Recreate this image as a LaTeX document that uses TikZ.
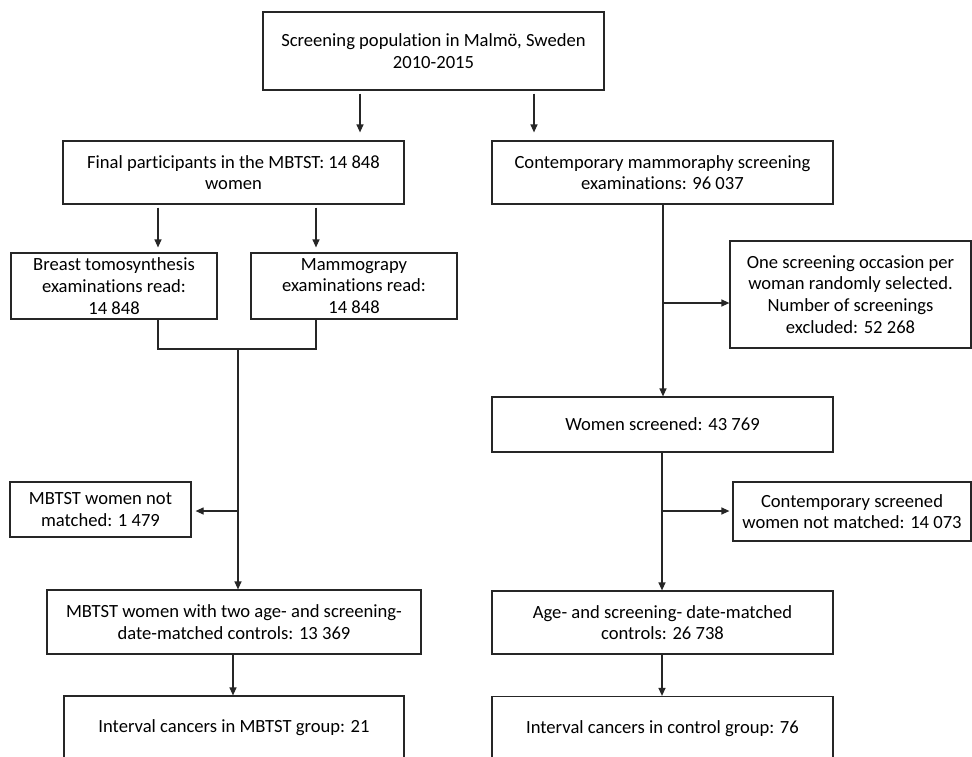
\documentclass[tikz,border=0pt]{standalone}
\usepackage{fontspec}
\setmainfont{Carlito}[Ligatures=NoCommon]
\usetikzlibrary{arrows.meta}
\tikzset{
  box/.style={draw=black!85, line width=1.2pt, rectangle, inner sep=0pt, align=center,
    font=\fontsize{18.6}{21.7}\selectfont},
  arr/.style={draw=black!85, line width=1.2pt, -{Triangle[length=8pt,width=7pt]}},
  ln/.style={draw=black!85, line width=1.2pt}
}
\begin{document}
\begin{tikzpicture}[x=1pt,y=-1pt]
\useasboundingbox (0,0) rectangle (972,756);
\fill[white] (0,0) rectangle (972,756);
% nodes
\node[box, minimum width=341pt, minimum height=78pt] (top) at (433.5,51) {Screening population in Malmö, Sweden\\2010-2015};
\node[box, minimum width=341pt, minimum height=63pt] (final) at (233.5,172.5) {Final participants in the MBTST: 14 848\\women};
\node[box, minimum width=341pt, minimum height=63pt] (contemp) at (662.5,172.5) {Contemporary mammoraphy screening\\examinations: 96 037};
\node[box, minimum width=206pt, minimum height=66pt] (breast) at (114,286) {Breast tomosynthesis\\examinations read:\\14 848};
\node[box, minimum width=206pt, minimum height=66pt] (mammo) at (354,286) {Mammograpy\\examinations read:\\14 848};
\node[box, minimum width=241pt, minimum height=107pt] (onescreen) at (850.5,294.5) {One screening occasion per\\woman randomly selected.\\Number of screenings\\excluded: 52 268};
\node[box, minimum width=341pt, minimum height=55pt] (womenscr) at (662.5,424.5) {Women screened: 43 769};
\node[box, minimum width=181pt, minimum height=55pt] (notmatched) at (100.5,509.5) {MBTST women not\\matched: 1 479};
\node[box, minimum width=238pt, minimum height=59pt] (contnot) at (852,511.5) {Contemporary screened\\women not matched: 14 073};
\node[box, minimum width=374pt, minimum height=64pt] (mbtst2) at (234,622) {MBTST women with two age- and screening-\\date-matched controls: 13 369};
\node[box, minimum width=341pt, minimum height=63pt] (age) at (662.5,622.5) {Age- and screening- date-matched\\controls: 26 738};
\node[box, minimum width=340pt, minimum height=64pt] (intA) at (234,728) {Interval cancers in MBTST group: 21};
\node[box, minimum width=341pt, minimum height=64pt] (intB) at (662.5,728.5) {Interval cancers in control group: 76};
% helper coordinates
\coordinate (xa) at (360,0);
\coordinate (xb) at (534,0);
\coordinate (xc) at (158,0);
\coordinate (xd) at (316,0);
\coordinate (xe) at (233,0);
\coordinate (j1) at (158,349);
\coordinate (j2) at (316,349);
\coordinate (jm) at (238,349);
\coordinate (b1) at (238,511);
\coordinate (b2) at (663,303);
\coordinate (b3) at (662,511);
% connectors
\draw[arr, shorten <=3pt, shorten >=8pt] (top.south -| xa) -- (final.north -| xa);
\draw[arr, shorten <=3pt, shorten >=8pt] (top.south -| xb) -- (contemp.north -| xb);
\draw[arr, shorten <=3pt, shorten >=5pt] (final.south -| xc) -- (breast.north -| xc);
\draw[arr, shorten <=3pt, shorten >=5pt] (final.south -| xd) -- (mammo.north -| xd);
\draw[ln] (breast.south -| j1) -- (j1) -- (j2) -- (mammo.south -| j2);
\draw[arr] (jm) -- (mbtst2.north -| jm);
\draw[arr, shorten >=4pt] (b1) -- (notmatched.east |- b1);
\draw[arr] (mbtst2.south -| xe) -- (intA.north -| xe);
\draw[arr] (contemp.south -| b2) -- (womenscr.north -| b2);
\draw[arr] (b2) -- (onescreen.west |- b2);
\draw[arr] (womenscr.south -| b3) -- (age.north -| b3);
\draw[arr, shorten >=3pt] (b3) -- (contnot.west |- b3);
\draw[arr] (age.south -| b3) -- (intB.north -| b3);
\end{tikzpicture}
\end{document}
